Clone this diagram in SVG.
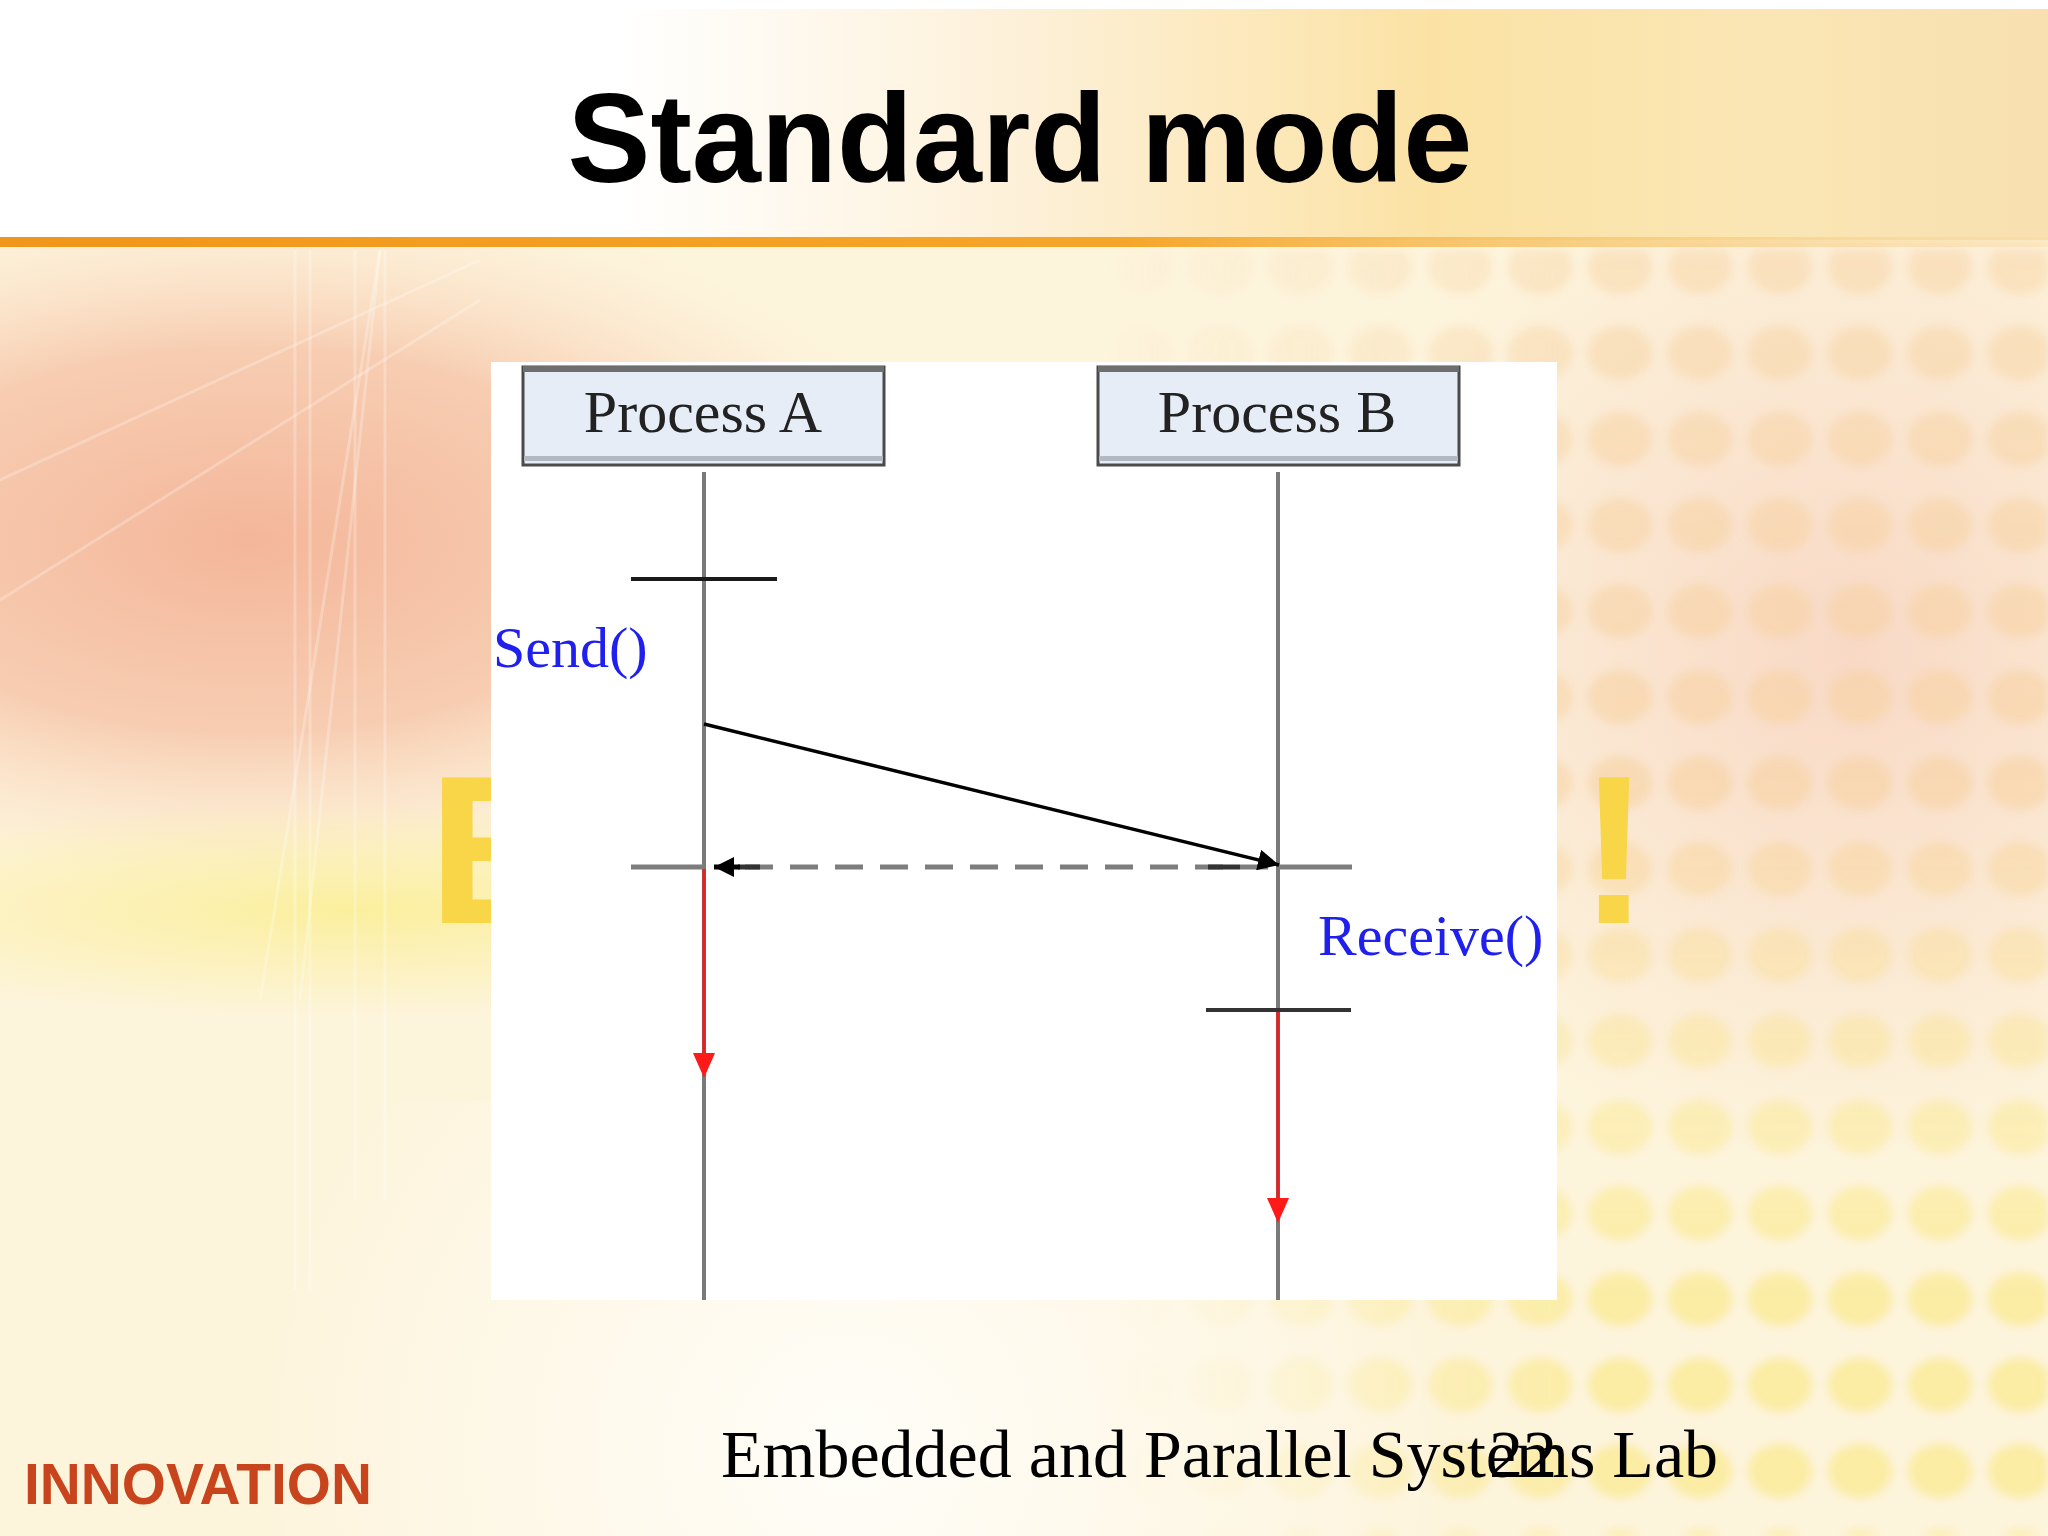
<svg xmlns="http://www.w3.org/2000/svg" width="2048" height="1536" viewBox="0 0 2048 1536">
<defs>
<style>
.lifeline{stroke:#7a7a7a;stroke-width:4;fill:none}
.tick{stroke:#1a1a1a;stroke-width:4;fill:none}
.box{fill:#e7edf7;stroke:#4a4a4a;stroke-width:3}
.boxtxt{font-family:"Liberation Serif",serif;font-size:60px;fill:#222;text-anchor:middle}
.call{font-family:"Liberation Serif",serif;font-size:58px;fill:#2020ee}
.red{stroke:#e02424;stroke-width:3.5;fill:none}
.redhead{fill:#ff1a1a}
.bigy{font-family:"Liberation Sans",Arial,sans-serif;font-weight:bold;font-size:211px;fill:#f9d548}
</style>
<marker id="arrBlack" viewBox="0 0 10 10" refX="10" refY="5" markerWidth="6" markerHeight="6" markerUnits="strokeWidth" orient="auto">
<path d="M0,0 L10,5 L0,10 Z" fill="#000"/>
</marker>
<marker id="arrBlack2" viewBox="0 0 10 10" refX="10" refY="5" markerWidth="4" markerHeight="4" markerUnits="strokeWidth" orient="auto">
<path d="M0,0 L10,5 L0,10 Z" fill="#000"/>
</marker>
<filter id="soft" x="-5%" y="-5%" width="110%" height="110%">
<feGaussianBlur stdDeviation="4"/>
</filter>
<linearGradient id="topband" x1="0" y1="0" x2="1" y2="0">
<stop offset="0" stop-color="#ffffff"/>
<stop offset="0.3" stop-color="#ffffff"/>
<stop offset="0.5" stop-color="#fdf0d8"/>
<stop offset="0.7" stop-color="#fbe2a4"/>
<stop offset="0.85" stop-color="#fae6b4"/>
<stop offset="1" stop-color="#f8e0b0"/>
</linearGradient>
<linearGradient id="orangeline" x1="0" y1="0" x2="1" y2="0">
<stop offset="0" stop-color="#f0961a"/>
<stop offset="0.55" stop-color="#f5a62a"/>
<stop offset="0.8" stop-color="#f7c56a" stop-opacity="0.7"/>
<stop offset="1" stop-color="#f8d9a0" stop-opacity="0.4"/>
</linearGradient>
<radialGradient id="pinkleft" cx="250" cy="540" r="700" gradientUnits="userSpaceOnUse" gradientTransform="translate(250 540) scale(1 0.5) translate(-250 -540)">
<stop offset="0" stop-color="#f4b69a"/>
<stop offset="0.55" stop-color="#f6c6aa" stop-opacity="0.85"/>
<stop offset="1" stop-color="#fbe2c8" stop-opacity="0"/>
</radialGradient>
<radialGradient id="yellowband" cx="350" cy="910" r="600" gradientUnits="userSpaceOnUse" gradientTransform="translate(350 910) scale(1 0.18) translate(-350 -910)">
<stop offset="0" stop-color="#fbef9e"/>
<stop offset="1" stop-color="#fbef9e" stop-opacity="0"/>
</radialGradient>
<radialGradient id="bottomglow" cx="850" cy="1450" r="600" gradientUnits="userSpaceOnUse">
<stop offset="0" stop-color="#fffdf8"/>
<stop offset="1" stop-color="#fffdf8" stop-opacity="0"/>
</radialGradient>
<radialGradient id="rightpink" cx="1850" cy="650" r="520" gradientUnits="userSpaceOnUse">
<stop offset="0" stop-color="#f7d2c0" stop-opacity="0.8"/>
<stop offset="1" stop-color="#f7d2c0" stop-opacity="0"/>
</radialGradient>
<pattern id="dotsY" x="-20" y="-34" width="80" height="86" patternUnits="userSpaceOnUse">
<ellipse cx="40" cy="43" rx="32" ry="27" fill="#fbe98a"/>
</pattern>
<pattern id="dotsO" x="-20" y="-34" width="80" height="86" patternUnits="userSpaceOnUse">
<ellipse cx="40" cy="43" rx="32" ry="27" fill="#f7d09c"/>
</pattern>
<linearGradient id="fadeX" x1="1100" y1="0" x2="1600" y2="0" gradientUnits="userSpaceOnUse">
<stop offset="0" stop-color="#fff" stop-opacity="0"/>
<stop offset="1" stop-color="#fff" stop-opacity="0.75"/>
</linearGradient>
<linearGradient id="fadeYtop" x1="0" y1="250" x2="0" y2="1150" gradientUnits="userSpaceOnUse">
<stop offset="0" stop-color="#fff" stop-opacity="0.55"/>
<stop offset="0.6" stop-color="#fff" stop-opacity="0.7"/>
<stop offset="1" stop-color="#fff" stop-opacity="0"/>
</linearGradient>
<linearGradient id="fadeYbot" x1="0" y1="800" x2="0" y2="1300" gradientUnits="userSpaceOnUse">
<stop offset="0" stop-color="#fff" stop-opacity="0"/>
<stop offset="1" stop-color="#fff" stop-opacity="0.9"/>
</linearGradient>
<mask id="maskO" maskUnits="userSpaceOnUse" x="0" y="0" width="2048" height="1536">
<rect x="0" y="0" width="2048" height="1536" fill="url(#fadeYtop)"/>
</mask>
<mask id="maskY" maskUnits="userSpaceOnUse" x="0" y="0" width="2048" height="1536">
<rect x="0" y="0" width="2048" height="1536" fill="url(#fadeYbot)"/>
</mask>
<mask id="maskX" maskUnits="userSpaceOnUse" x="0" y="0" width="2048" height="1536">
<rect x="0" y="0" width="2048" height="1536" fill="url(#fadeX)"/>
</mask>
</defs>

<!-- background -->
<g id="background">
<rect x="0" y="0" width="2048" height="1536" fill="#fdf4dc"/>
<rect x="0" y="243" width="2048" height="700" fill="url(#pinkleft)"/>
<rect x="0" y="700" width="1000" height="420" fill="url(#yellowband)"/>
<rect x="1100" y="243" width="948" height="900" fill="url(#rightpink)"/>
<g mask="url(#maskX)">
<g filter="url(#soft)">
<rect x="1000" y="250" width="1048" height="1286" fill="url(#dotsO)" mask="url(#maskO)"/>
<rect x="1000" y="250" width="1048" height="1286" fill="url(#dotsY)" mask="url(#maskY)"/>
</g>
</g>
<rect x="0" y="1100" width="1800" height="436" fill="url(#bottomglow)"/>
<g stroke="#ffffff" stroke-opacity="0.25" stroke-width="3" fill="none">
<line x1="295" y1="250" x2="295" y2="1290"/>
<line x1="310" y1="250" x2="310" y2="1290"/>
<line x1="355" y1="250" x2="355" y2="1200"/>
<line x1="385" y1="250" x2="385" y2="1200"/>
<line x1="380" y1="250" x2="260" y2="1000"/>
<line x1="380" y1="250" x2="300" y2="1000"/>
<line x1="0" y1="600" x2="480" y2="300"/>
<line x1="0" y1="480" x2="480" y2="260"/>
</g>
<rect x="0" y="0" width="2048" height="240" fill="url(#topband)"/>
<rect x="0" y="0" width="2048" height="9" fill="#ffffff"/>
<rect x="0" y="237" width="2048" height="10" fill="url(#orangeline)"/>
<text class="bigy" x="428" y="923">E</text>
<text class="bigy" x="1579" y="923">!</text>
</g>

<!-- title -->
<text id="title" x="1020" y="182" font-family="'Liberation Sans',Arial,sans-serif" font-weight="bold" font-size="127" text-anchor="middle" textLength="905" lengthAdjust="spacingAndGlyphs" fill="#000">Standard mode</text>

<!-- diagram panel -->
<rect id="panel" x="491" y="362" width="1066" height="938" fill="#ffffff"/>

<g id="processA">
<rect class="box" x="523" y="367" width="361" height="98"/>
<rect x="523" y="366" width="361" height="6" fill="#6e6e6e"/>
<rect x="524" y="456" width="359" height="5" fill="#b4b8c0"/>
<text class="boxtxt" x="703" y="432">Process A</text>
</g>

<g id="processB">
<rect class="box" x="1098" y="367" width="361" height="98"/>
<rect x="1098" y="366" width="361" height="6" fill="#6e6e6e"/>
<rect x="1099" y="456" width="359" height="5" fill="#b4b8c0"/>
<text class="boxtxt" x="1277" y="432">Process B</text>
</g>

<g id="lifelineA">
<line class="lifeline" x1="704" y1="472" x2="704" y2="1300"/>
</g>
<g id="lifelineB">
<line class="lifeline" x1="1278" y1="472" x2="1278" y2="1300"/>
</g>

<g id="labels">
<text class="call" x="493" y="667">Send()</text>
<text class="call" x="1318" y="955">Receive()</text>
</g>

<g id="connectors">
<line class="tick" x1="631" y1="579" x2="777" y2="579"/>
<line x1="631" y1="867" x2="704" y2="867" stroke="#7d7d7d" stroke-width="5"/>
<line x1="1278" y1="867" x2="1352" y2="867" stroke="#7d7d7d" stroke-width="5"/>
<line x1="1268" y1="867" x2="726" y2="867" stroke="#7d7d7d" stroke-width="5" stroke-dasharray="28 17"/>
<line x1="738" y1="867" x2="760" y2="867" stroke="#333" stroke-width="5"/>
<line x1="1208" y1="867" x2="1240" y2="867" stroke="#333" stroke-width="5"/>
<line x1="740" y1="867" x2="714" y2="867" stroke="#000" stroke-width="5" marker-end="url(#arrBlack2)"/>
<line x1="704" y1="724" x2="1279" y2="865" stroke="#000" stroke-width="3.5" marker-end="url(#arrBlack)"/>
<line x1="1206" y1="1010" x2="1351" y2="1010" stroke="#333" stroke-width="4"/>
<line class="red" x1="704" y1="869" x2="704" y2="1060"/>
<path class="redhead" d="M693,1053 L715,1053 L704,1078 Z"/>
<line class="red" x1="1278" y1="1012" x2="1278" y2="1205"/>
<path class="redhead" d="M1267,1198 L1289,1198 L1278,1223 Z"/>
</g>

<!-- footer -->
<text id="footer" x="721" y="1477" font-family="'Liberation Serif','Times New Roman',serif" font-size="68" fill="#000">Embedded and Parallel Systems Lab</text>
<text id="pagenum" x="1489" y="1477" font-family="'Liberation Serif','Times New Roman',serif" font-size="68" fill="#000">22</text>
<text id="logo" x="24" y="1504" font-family="'Liberation Sans',Arial,sans-serif" font-weight="bold" font-size="57" textLength="348" lengthAdjust="spacingAndGlyphs" fill="#c8441c">INNOVATION</text>
</svg>
